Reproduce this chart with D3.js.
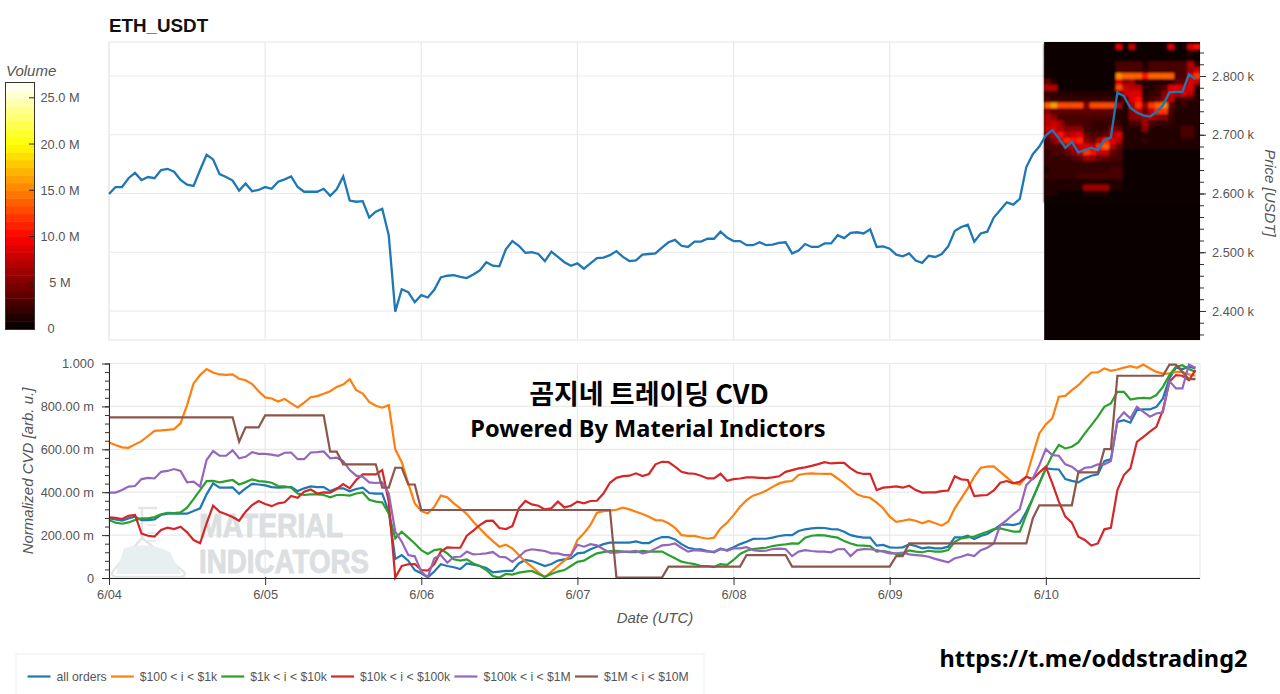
<!DOCTYPE html>
<html>
<head>
<meta charset="utf-8">
<script src="https://cdn.jsdelivr.net/npm/d3@7"></script>
<style>
  body { margin: 0; background: #fff; }
  text { font-family: "Liberation Sans", Arial, sans-serif; }
</style>
</head>
<body>
<div id="chart"></div>
<script>
// hourly series, first sample 6/04 00:00 UTC
var startTime = Date.UTC(2025, 5, 4);
var endTime = Date.UTC(2025, 5, 10, 23, 42);

var price = [
  2599,2611,2611,2626,2635,2623,2628,2626,2640,2642,2637,2623,2615,2613,2640,2666,2658,2633,2628,2622,2605,2617,2604,2606,
  2611,2608,2620,2624,2629,2611,2603,2603,2603,2608,2596,2607,2629,2588,2586,2587,2559,2569,2574,2529,2399,2437,2432,2415,
  2427,2423,2436,2457,2460,2461,2458,2456,2462,2469,2483,2477,2476,2505,2519,2511,2499,2500,2497,2485,2501,2492,2483,2477,
  2481,2472,2481,2490,2491,2495,2502,2492,2485,2486,2496,2497,2498,2508,2517,2521,2511,2509,2518,2518,2523,2523,2535,2525,
  2519,2519,2512,2512,2517,2512,2513,2516,2517,2498,2503,2514,2509,2509,2515,2515,2529,2524,2533,2534,2532,2539,2509,2510,
  2506,2496,2493,2498,2486,2482,2494,2492,2497,2510,2536,2543,2547,2518,2532,2535,2559,2572,2585,2581,2591,2645,2667,2680,
  2699,2708,2694,2678,2688,2670,2674,2678,2674,2691,2695,2772,2766,2746,2738,2733,2731,2738,2750,2772,2773,2773,2803,2795
];

// normalized CVD, in milli units
var allOrders = [
  278,273,267,278,286,270,270,273,294,300,301,300,300,312,325,390,441,421,421,422,393,418,439,436,
  432,424,421,422,425,405,418,427,424,424,405,418,418,404,415,421,396,393,393,309,89,107,81,37,
  22,3,30,64,56,50,42,68,62,56,47,26,30,33,33,68,84,79,68,56,65,81,87,92,
  115,118,134,146,158,165,165,165,165,171,163,163,180,191,191,180,158,141,135,134,126,120,135,130,
  143,158,169,182,183,183,188,196,200,200,219,227,231,234,233,228,227,216,200,193,188,188,151,154,
  143,141,143,157,149,138,143,138,138,146,189,189,197,182,196,205,224,247,250,247,255,309,371,441,
  511,508,506,461,453,446,464,477,483,545,554,728,736,724,783,786,786,798,837,930,980,974,985,977
];
var orders100to1k = [
  632,620,609,607,623,638,662,686,688,691,694,721,806,907,946,974,958,949,947,949,929,922,904,871,
  842,837,823,835,814,795,818,843,848,859,871,891,902,927,876,860,821,803,794,806,600,540,441,348,
  312,301,332,384,376,348,325,298,262,231,200,172,146,155,138,107,76,53,26,3,30,56,81,107,
  177,208,247,304,312,314,318,328,320,309,298,286,270,269,255,234,200,196,196,189,183,188,231,258,
  293,332,363,384,394,407,425,441,449,452,480,486,488,486,485,485,464,441,415,390,379,374,351,325,
  286,262,267,273,267,255,266,255,244,262,325,371,418,472,514,519,520,495,469,444,436,472,573,674,
  716,744,845,849,876,899,930,958,958,977,966,972,981,988,980,995,977,961,953,953,961,961,949,943
];
var orders1kto10k = [
  270,258,253,259,270,278,278,284,297,304,303,306,328,368,410,452,453,446,452,457,436,447,460,452,
  449,444,429,427,421,394,387,390,390,387,376,387,387,384,394,399,365,356,353,301,185,216,188,161,
  130,112,130,134,115,87,81,87,68,56,37,9,2,19,16,25,30,33,19,6,19,30,37,56,
  75,81,99,115,121,126,127,123,121,121,127,123,123,123,107,92,76,70,65,56,56,51,65,61,
  84,112,127,135,138,141,149,154,157,161,160,188,197,200,199,193,188,172,161,152,151,149,123,127,
  120,112,112,129,123,120,127,123,123,130,169,185,189,193,205,216,228,231,224,216,216,294,371,441,
  511,573,620,604,612,632,674,713,752,798,814,868,868,832,837,840,837,853,891,946,985,992,974,961
];
var orders10kto100k = [
  283,281,275,290,294,207,197,193,224,235,228,239,213,177,162,255,337,309,297,284,267,309,340,359,
  345,335,348,353,382,374,402,413,394,399,398,415,438,418,457,483,483,483,503,356,2,56,64,65,
  37,34,65,123,143,141,141,197,221,247,266,267,233,228,242,325,359,343,337,320,325,356,329,337,
  356,348,359,360,394,444,467,475,477,488,475,485,530,542,540,519,495,488,486,477,464,464,486,453,
  461,464,469,469,467,466,469,474,495,503,511,516,523,531,540,534,537,537,511,492,485,486,410,421,
  424,427,421,430,410,398,399,399,405,408,474,460,457,382,385,387,408,444,452,441,449,472,461,492,
  519,441,356,286,258,193,177,151,161,227,234,410,480,511,635,658,682,705,783,915,946,943,922,969
];
var orders100kto1M = [
  398,398,410,426,429,461,467,464,495,499,508,499,446,449,426,550,592,570,570,595,558,565,587,579,
  579,575,570,584,585,554,554,585,587,590,558,561,545,503,477,472,446,443,446,394,216,169,107,101,
  30,3,92,107,71,98,99,123,110,112,115,121,99,96,75,99,126,134,130,126,115,115,107,107,
  155,146,158,152,134,118,118,123,123,126,115,121,137,152,154,161,141,123,130,127,123,123,138,127,
  138,138,144,130,126,127,135,137,135,102,123,130,126,123,123,120,134,135,102,130,135,134,130,123,
  115,115,118,110,107,104,99,89,81,73,92,99,110,102,130,141,161,247,270,297,321,433,464,526,
  601,573,570,530,519,495,514,517,530,530,545,736,772,744,798,775,752,767,772,918,884,884,995,980
];
var orders1Mto10M = [
  749,749,749,749,749,749,749,749,749,749,749,749,749,749,749,749,749,749,749,749,635,702,702,702,
  758,758,758,758,758,758,758,758,758,758,589,589,530,530,530,530,530,530,421,421,514,514,436,436,
  317,317,317,317,317,317,317,317,317,317,317,317,317,317,317,317,317,317,317,317,317,317,317,317,
  317,317,317,317,317,317,2,2,2,2,2,2,2,2,53,53,53,53,53,53,53,53,53,53,
  53,53,107,107,107,107,107,107,107,53,53,53,53,53,53,53,53,53,53,53,53,53,53,53,
  53,102,102,161,161,161,161,161,161,161,161,161,161,161,161,161,161,161,161,161,161,161,278,339,
  339,339,339,339,339,492,492,492,492,601,601,943,943,943,943,943,943,943,943,995,995,960,927,927
];

var seriesNames = ["all orders", "$100 < i < $1k", "$1k < i < $10k", "$10k < i < $100k", "$100k < i < $1M", "$1M < i < $10M"];
var seriesValues = [allOrders, orders100to1k, orders1kto10k, orders10kto100k, orders100kto1M, orders1Mto10M];

// order book volume (millions) for the last day. one row per $10 price bin, one value per hour
var heatFirstHour = 143.75;
var heatPrices = [2850,2840,2830,2820,2810,2800,2790,2780,2770,2760,2750,2740,2730,2720,2710,2700,2690,2680,2670,2660,2650,2640,2630,2620,2610,2600,2590];
var heatVolumes = [
  [.3,.3,.3,.3,.3,.3,.3,.3,.3,.3,.3,9,.3,8,.3,.3,.3,.3,.3,9,.3,.3,9,10],
  [.3,.3,.3,.3,.3,.3,.3,.3,.3,.3,.3,.3,.3,.3,.3,.3,.3,.3,.3,.3,.3,.3,2,.3],
  [.3,.3,.3,.3,.3,.3,.3,.3,.3,.3,.3,.3,.3,.3,.3,.3,.3,.3,.3,.3,.3,.3,.3,.3],
  [.3,.3,.3,.3,.3,.3,.3,.3,.3,.3,.3,3,3,3,3,1,3,3,3,3,3,3,7,2],
  [.3,.3,.3,.3,.3,.3,.3,.3,.3,.3,.3,3,3,3,3,1,3,3,3,3,3,3,6,8],
  [.3,.3,.3,.3,.3,.3,.3,.3,.3,.3,.3,15,14,14,14,10,14,14,14,14,3,3,9,12],
  [4,1,.5,.5,.5,.5,.5,.5,.5,.5,.5,9,5,6,1,1,1,1,1,1,4,4,9,7],
  [7,7,.5,.5,.5,.5,.5,.5,.5,.5,.5,13,8,7,7,1,1,2,3,9,9,8,9,1],
  [2,2,1,1,1,1,1,1,1,1,1,2,8,9,9,1,2,2,5,8,7,9,7,1],
  [3,2,2,2,2,2,2,2,2,2,2,1,4,9,10,2,3,4,6,7,2,3,2,1],
  [14,16,13,13,13,13,5,13,13,13,13,6,1,7,12,6,12,14,15,4,1,2,1,1],
  [5,4,4,4,4,4,4,4,4,4,4,1,1,5,8,4,8,12,12,3,1,1,1,1],
  [7,5,3,3,3,3,3,3,3,3,3,1,1,5,5,6,7,5,5,2,1,1,1,1],
  [7,8,6,3,3,3,3,2,2,2,3,2,1,3,3,6,3,2,2,2,1,1,1,1],
  [8,9,7,5,5,5,2,2,2,2,5,4,1,1,1,5,1,1,1,1,1,3,3,1],
  [5,7,10,7,8,9,4,3,3,4,7,9,1,1,1,1,1,1,1,1,1,3,3,1],
  [3,5,8,11,10,11,5,4,7,11,9,7,1,1,1,2,1,1,1,1,1,1,1,1],
  [3,3,3,6,7,8,9,8,12,14,7,4,1,1,1,1,1,1,1,1,1,1,1,1],
  [2,3,3,4,5,8,12,10,8,8,4,3,.7,.7,.7,.7,.7,.7,.7,.7,.7,.7,.7,.7],
  [2,2,2,2,3,4,6,5,4,4,3,3,.5,.5,.5,.5,.5,.5,.5,.5,.5,.5,.5,.5],
  [2,2,2,2,2,2,2,2,2,2,2,2,.4,.4,.4,.4,.4,.4,.4,.4,.4,.4,.4,.4],
  [1,2,2,2,2,2,2,2,2,2,3,3,.3,.3,.3,.3,.3,.3,.3,.3,.3,.3,.3,.3],
  [2,2,2,2,2,3,3,3,3,3,3,3,.3,.3,.3,.3,.3,.3,.3,.3,.3,.3,.3,.3],
  [1,1.5,1.5,1.5,1.5,1.5,1.5,1.5,1.5,1.5,1.5,1.5,.3,.3,.3,.3,.3,.3,.3,.3,.3,.3,.3,.3],
  [1,1,1,1,1,1,6,6,6,6,1,1,.3,.3,.3,.3,.3,.3,.3,.3,.3,.3,.3,.3],
  [1,1,.5,.5,.5,.5,1.5,1.5,1.5,1.5,.5,.5,.3,.3,.3,.3,.3,.3,.3,.3,.3,.3,.3,.3],
  [.3,.3,.3,.3,.3,.3,.8,.8,.8,.3,.3,.3,.3,.3,.3,.3,.3,.3,.3,.3,.3,.3,.3,.3]
];

var priceTicks = [2400, 2500, 2600, 2700, 2800];
var cvdTicks = [0, 200, 400, 600, 800, 1000];
var volumeTicks = [0, 5, 10, 15, 20, 25];
var volumeMax = 26.6;

var colours = d3.schemeCategory10;
var gridColour = "#e9e9e9";
var textColour = "#555";

var svg = d3.select("#chart").append("svg").attr("width", 1280).attr("height", 694);

var x = d3.scaleUtc().domain([startTime, endTime]).range([109, 1200]);
var yPrice = d3.scaleLinear().domain([2350.6, 2857.9]).range([340, 42]);
var yCvd = d3.scaleLinear().domain([0, 1000]).range([578, 363.5]);

function hourTime(i) { return startTime + i * 3600000; }
var dayTicks = d3.range(0, 7).map(function(d) { return new Date(hourTime(d * 24)); });

// hot palette, quantized like the colour bar
var hot = d3.scaleLinear().domain([0, 0.375, 0.75, 1]).range(["#000000", "#ff0000", "#ffff00", "#ffffff"]);
var bandCount = 32;
var heatColour = d3.scaleQuantize().domain([0, volumeMax])
    .range(d3.range(bandCount).map(function(d) { return hot((d + 0.5) / bandCount); }));

var defs = svg.append("defs");
defs.append("clipPath").attr("id", "priceClip")
  .append("rect").attr("x", 109).attr("y", 42).attr("width", 1091).attr("height", 298);
defs.append("filter").attr("id", "soften")
  .append("feGaussianBlur").attr("stdDeviation", 0.8);

function drawGrid(y, yTicks, top, bottom) {
    var g = svg.append("g");
    g.selectAll(".v").data(dayTicks).enter().append("line")
        .attr("x1", x).attr("x2", x).attr("y1", top).attr("y2", bottom)
        .attr("stroke", gridColour).attr("stroke-width", 1.2);
    g.selectAll(".h").data(yTicks).enter().append("line")
        .attr("x1", 109).attr("x2", 1200).attr("y1", y).attr("y2", y)
        .attr("stroke", gridColour).attr("stroke-width", 1.2);
    g.append("rect").attr("x", 109).attr("y", top).attr("width", 1091).attr("height", bottom - top)
        .attr("fill", "none").attr("stroke", gridColour).attr("stroke-width", 1.2);
}

// price panel
drawGrid(yPrice, priceTicks, 42, 340);

var heat = svg.append("g").attr("clip-path", "url(#priceClip)");
heat.append("rect")
    .attr("x", x(hourTime(heatFirstHour))).attr("y", 42)
    .attr("width", 1200 - x(hourTime(heatFirstHour))).attr("height", 298)
    .attr("fill", heatColour(0));
var heatCells = heat.append("g").attr("filter", "url(#soften)");
heatVolumes.forEach(function(row, r) {
    heatCells.selectAll(".r" + r).data(row).enter().append("rect")
        .attr("x", function(d, c) { return x(hourTime(heatFirstHour + c)); })
        .attr("y", yPrice(heatPrices[r] + 5))
        .attr("width", function(d, c) { return x(hourTime(heatFirstHour + c + 1)) - x(hourTime(heatFirstHour + c)) + 0.5; })
        .attr("height", yPrice(heatPrices[r] - 5) - yPrice(heatPrices[r] + 5) + 0.5)
        .attr("fill", function(d) { return heatColour(d); });
});

var line = d3.line().x(function(d, i) { return x(hourTime(i)); });

svg.append("path").datum(price)
    .attr("d", line.y(function(d) { return yPrice(d); }))
    .attr("fill", "none").attr("stroke", colours[0]).attr("stroke-width", 2.3);

var priceAxis = d3.axisRight(yPrice).tickValues(priceTicks).tickSize(6).tickPadding(6)
    .tickFormat(function(d) { return d3.format(".3f")(d / 1000) + " k"; });
var priceAxisG = svg.append("g").attr("transform", "translate(1200,0)").call(priceAxis);
priceAxisG.select(".domain").remove();
var priceMinor = d3.axisRight(yPrice).tickValues(d3.range(2360, 2860, 20)).tickSize(4).tickFormat("");
var priceMinorG = svg.append("g").attr("transform", "translate(1200,0)").call(priceMinor);
priceMinorG.select(".domain").remove();

// cvd panel
drawGrid(yCvd, cvdTicks.slice(1), 363.5, 578);

// faded logo behind the lines
var logo = svg.append("g").attr("fill", "none").attr("stroke", "#e3e5e6").attr("stroke-width", 2.5);
logo.append("path").attr("d", "M138 508H157M142 508V538L184 572Q186 576 181 577H116Q110 576 113 571L142 538");
logo.append("path").attr("d", "M124 548Q147 541 170 552L181 574H116Z").attr("fill", "#e8eff1").attr("stroke", "none");
logo.append("path").attr("d", "M147 525H156M147 533H156M147 541H156").attr("stroke-width", 1.5);
svg.append("text").attr("x", 199).attr("y", 537).text("MATERIAL")
    .attr("font-size", 34).attr("font-weight", "bold").attr("fill", "#dcdfe1")
    .attr("stroke", "#dcdfe1").attr("stroke-width", 1)
    .attr("textLength", 144).attr("lengthAdjust", "spacingAndGlyphs");
svg.append("text").attr("x", 199).attr("y", 573).text("INDICATORS")
    .attr("font-size", 33).attr("font-weight", "bold").attr("fill", "#dcdfe1")
    .attr("stroke", "#dcdfe1").attr("stroke-width", 1)
    .attr("textLength", 170).attr("lengthAdjust", "spacingAndGlyphs");

seriesValues.forEach(function(values, s) {
    svg.append("path").datum(values)
        .attr("d", line.y(function(d) { return yCvd(d); }))
        .attr("fill", "none").attr("stroke", colours[s]).attr("stroke-width", 2.2);
});

var cvdAxis = d3.axisLeft(yCvd).tickValues(cvdTicks).tickSize(7).tickPadding(8)
    .tickFormat(function(d) {
        if (d === 0) return "0";
        if (d === 1000) return "1.000";
        return d3.format(".2f")(d) + " m";
    });
var cvdAxisG = svg.append("g").attr("transform", "translate(109,0)").call(cvdAxis);
cvdAxisG.select(".domain").attr("stroke", "#222").attr("d", "M0.5,363.5V578");
var cvdMinor = d3.axisLeft(yCvd).tickValues(d3.range(0, 1001, 40)).tickSize(4).tickFormat("");
var cvdMinorG = svg.append("g").attr("transform", "translate(109,0)").call(cvdMinor);
cvdMinorG.select(".domain").remove();

var dateAxis = d3.axisBottom(x).tickValues(dayTicks).tickSize(7).tickPadding(5)
    .tickFormat(d3.utcFormat("%-m/%d"));
var dateAxisG = svg.append("g").attr("transform", "translate(0,578)").call(dateAxis);
dateAxisG.select(".domain").attr("stroke", "#222").attr("d", "M109,0.5H1200");

// ticks straddle the axis line on the cvd panel
cvdAxisG.selectAll(".tick line").attr("x1", 1);
cvdMinorG.selectAll(".tick line").attr("x1", 1);
dateAxisG.selectAll(".tick line").attr("y1", -1);

svg.selectAll(".tick line").attr("stroke", "#333");
svg.selectAll(".tick text").attr("font-size", 12.8).attr("fill", textColour)
    .style("font-family", '"Liberation Sans", Arial, sans-serif');

// colour bar
var yVolume = d3.scaleLinear().domain([0, volumeMax]).range([329, 83]);
var barBands = heatColour.range();
svg.append("g").selectAll("rect").data(barBands).enter().append("rect")
    .attr("x", 6).attr("width", 28.5)
    .attr("y", function(d, i) { return yVolume(heatColour.invertExtent(d)[1]); })
    .attr("height", function(d, i) {
        var e = heatColour.invertExtent(d);
        return yVolume(e[0]) - yVolume(e[1]) + 0.5;
    })
    .attr("fill", function(d) { return d; });
svg.append("rect").attr("x", 5.5).attr("y", 82.5).attr("width", 29).attr("height", 247)
    .attr("fill", "none").attr("stroke", "#333").attr("stroke-width", 1);
svg.append("g").selectAll("line").data(volumeTicks.slice(1)).enter().append("line")
    .attr("x1", 29).attr("x2", 34).attr("y1", yVolume).attr("y2", yVolume)
    .attr("stroke", "#222");
svg.append("g").selectAll("text").data(volumeTicks).enter().append("text")
    .attr("x", function(d) { return d === 0 ? 51 : 60; })
    .attr("y", yVolume).attr("dy", "0.35em")
    .attr("text-anchor", "middle").attr("font-size", 12.8).attr("fill", textColour)
    .text(function(d) {
        if (d === 0) return "0";
        return d === 5 ? "5 M" : d3.format(".1f")(d) + " M";
    });

// titles
svg.append("text").attr("x", 109).attr("y", 32).text("ETH_USDT")
    .attr("font-size", 18.8).attr("font-weight", "bold").attr("fill", "#111");
function axisLabel(text, tx, ty, angle) {
    svg.append("text").text(text)
        .attr("transform", "translate(" + tx + "," + ty + ") rotate(" + angle + ")")
        .attr("text-anchor", "middle").attr("font-size", 15).attr("font-style", "italic").attr("fill", textColour);
}
svg.append("text").attr("x", 6).attr("y", 76).text("Volume")
    .attr("font-size", 15).attr("font-style", "italic").attr("fill", textColour);
axisLabel("Normalized CVD [arb. u.]", 33, 471, -90);
axisLabel("Price [USDT]", 1265, 193, 90);
axisLabel("Date (UTC)", 655, 623, 0);

var notice = svg.append("g").attr("text-anchor", "middle").attr("font-weight", "bold").attr("fill", "#000");
notice.append("text").attr("x", 649).attr("y", 404).text("곰지네 트레이딩 CVD")
    .style("font-family", '"Noto Sans CJK KR", sans-serif').attr("font-size", 27);
notice.append("text").attr("x", 648).attr("y", 437).text("Powered By Material Indictors")
    .style("font-family", '"Noto Sans", sans-serif').attr("font-size", 23.6);
svg.append("text").attr("x", 1093.5).attr("y", 667).attr("text-anchor", "middle").text("https://t.me/oddstrading2")
    .style("font-family", '"Noto Sans", sans-serif').attr("font-size", 23.5).attr("font-weight", "bold").attr("fill", "#000");

// legend, cut off by the bottom of the picture
svg.append("rect").attr("x", 16).attr("y", 654).attr("width", 688).attr("height", 60)
    .attr("fill", "#fff").attr("stroke", "#eee");
var legendX = 27.5;
seriesNames.forEach(function(name, s) {
    svg.append("line").attr("x1", legendX).attr("x2", legendX + 23).attr("y1", 676.5).attr("y2", 676.5)
        .attr("stroke", colours[s]).attr("stroke-width", 2.2);
    var label = svg.append("text").attr("x", legendX + 29).attr("y", 681).text(name)
        .attr("font-size", 12.2).attr("fill", textColour);
    legendX += 29 + label.node().getComputedTextLength() + 4.2;
});
</script>
</body>
</html>
